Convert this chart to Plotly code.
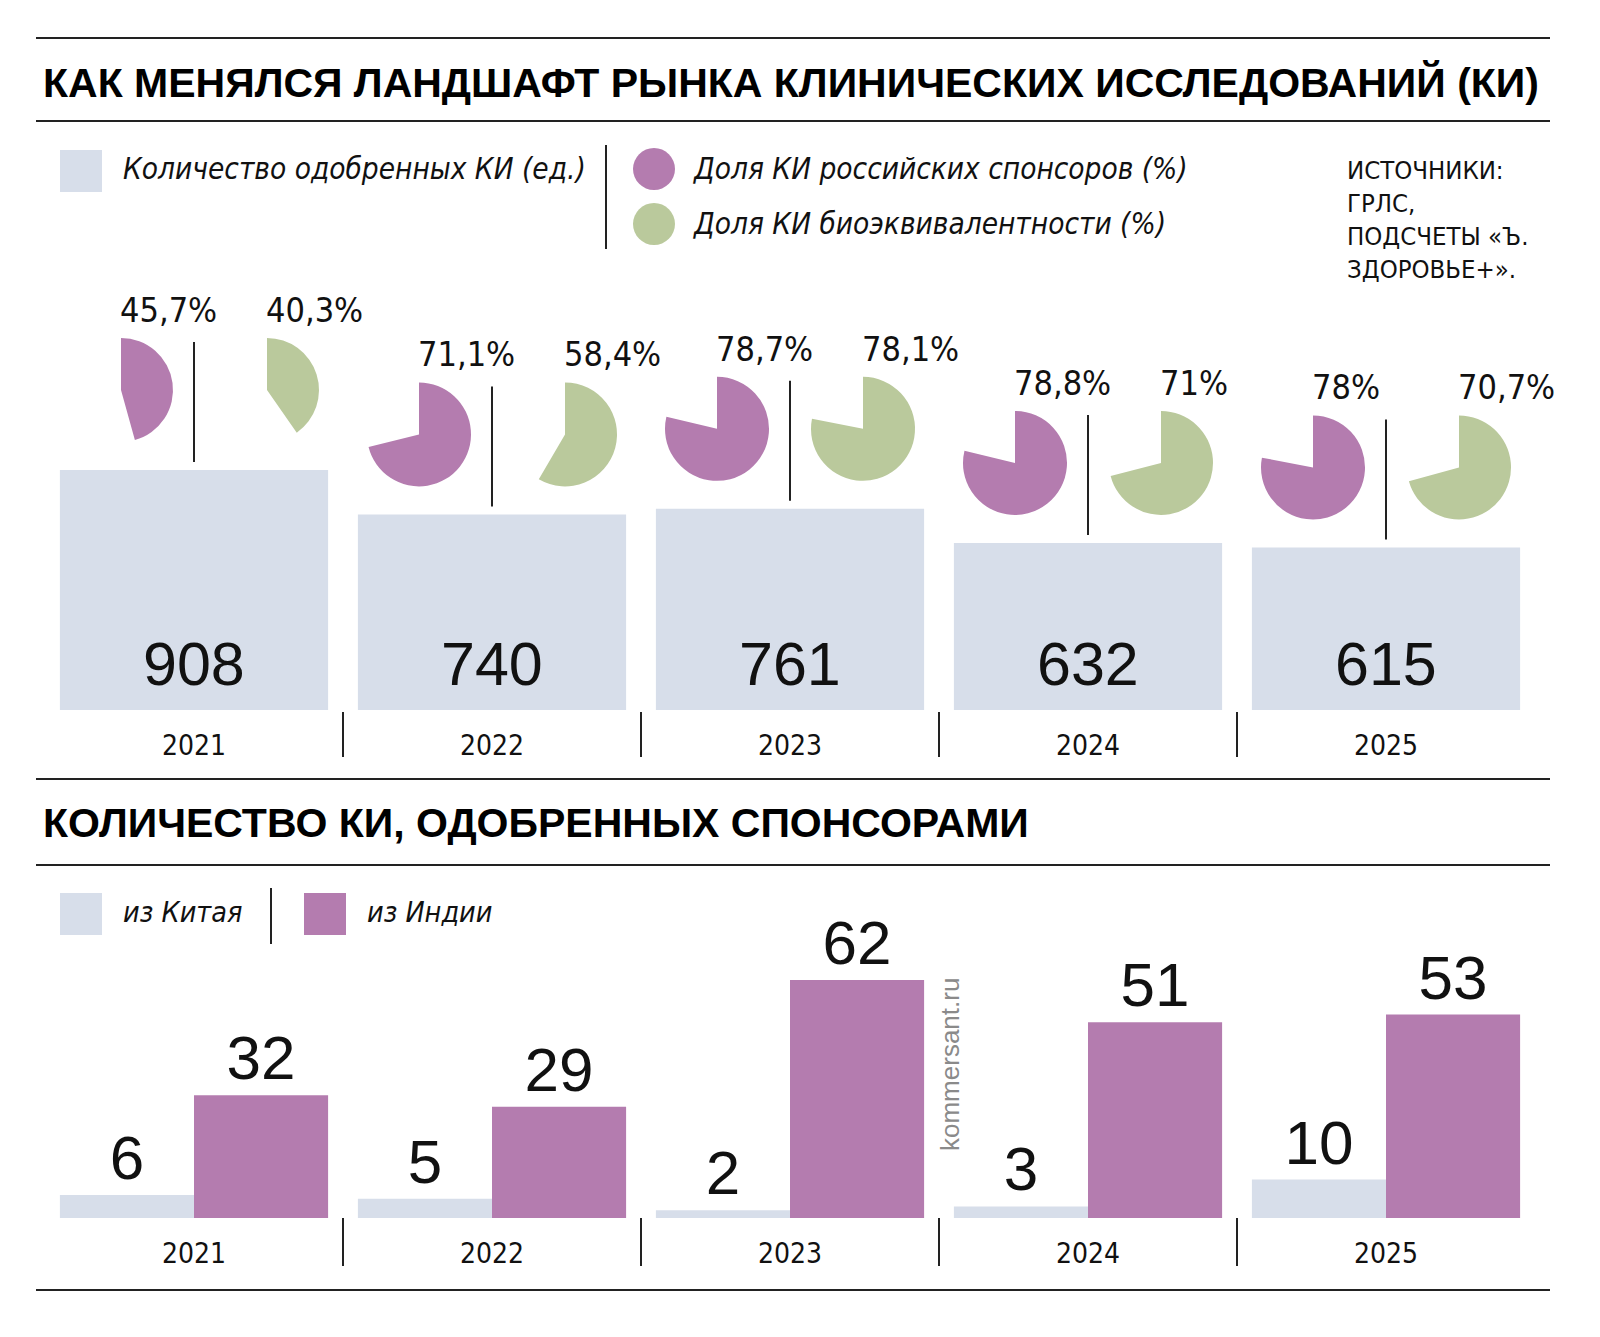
import plotly.graph_objects as go

# ---------------- data ----------------
years = ["2021", "2022", "2023", "2024", "2025"]
approved = [908, 740, 761, 632, 615]
share_ru = [45.7, 71.1, 78.7, 78.8, 78.0]
share_ru_lbl = ["45,7%", "71,1%", "78,7%", "78,8%", "78%"]
share_bio = [40.3, 58.4, 78.1, 71.0, 70.7]
share_bio_lbl = ["40,3%", "58,4%", "78,1%", "71%", "70,7%"]
china = [6, 5, 2, 3, 10]
india = [32, 29, 62, 51, 53]

title1 = "КАК МЕНЯЛСЯ ЛАНДШАФТ РЫНКА КЛИНИЧЕСКИХ ИССЛЕДОВАНИЙ (КИ)"
title2 = "КОЛИЧЕСТВО КИ, ОДОБРЕННЫХ СПОНСОРАМИ"
leg_approved = "Количество одобренных КИ (ед.)"
leg_ru = "Доля КИ российских спонсоров (%)"
leg_bio = "Доля КИ биоэквивалентности (%)"
leg_china = "из Китая"
leg_india = "из Индии"
sources = ["ИСТОЧНИКИ:", "ГРЛС,", "ПОДСЧЕТЫ «Ъ.", "ЗДОРОВЬЕ+»."]
watermark = "kommersant.ru"

# ---------------- style ----------------
W, H = 1600, 1337
C_BAR = "#d7deea"
C_PUR = "#b47caf"
C_GRN = "#bac99c"
NARROW = "Liberation Sans Narrow, DejaVu Sans Condensed, Arial Narrow, sans-serif"
SANS = "Liberation Sans, Arial, sans-serif"


def xp(px):
    return px / W


def yp(py):
    return 1 - py / H


X0, X1 = 37, 1527
n = len(years)
pitch = (X1 - X0) / n
xs = list(range(n))

# top chart scale
T_BASE, T_MAX = 702, 1600
T_PPU = 240 / 908
T_TOP = T_BASE - T_MAX * T_PPU
# bottom chart scale
B_BASE, B_MAX = 1210, 75
B_PPU = 238 / 62
B_TOP = B_BASE - B_MAX * B_PPU

fig = go.Figure()

fig.add_trace(go.Bar(x=xs, y=approved, marker=dict(color=C_BAR, line_width=0),
                     xaxis="x", yaxis="y", hoverinfo="skip", showlegend=False))
fig.add_trace(go.Bar(x=xs, y=china, marker=dict(color=C_BAR, line_width=0),
                     xaxis="x2", yaxis="y2", text=[str(v) for v in china],
                     textposition="outside", constraintext="none", cliponaxis=False,
                     textfont=dict(family=SANS, size=62, color="#111"),
                     hoverinfo="skip", showlegend=False))
fig.add_trace(go.Bar(x=xs, y=india, marker=dict(color=C_PUR, line_width=0),
                     xaxis="x2", yaxis="y2", text=[str(v) for v in india],
                     textposition="outside", constraintext="none", cliponaxis=False,
                     textfont=dict(family=SANS, size=62, color="#111"),
                     hoverinfo="skip", showlegend=False))

annotations = []
shapes = []

R = 52
for i in range(n):
    cxb = X0 + (i + 0.5) * pitch
    top_px = T_BASE - approved[i] * T_PPU
    cy = top_px - 80
    for val, lbl, col, dx in ((share_ru[i], share_ru_lbl[i], C_PUR, -73),
                              (share_bio[i], share_bio_lbl[i], C_GRN, 73)):
        cx = cxb + dx
        fig.add_trace(go.Pie(values=[val, 100 - val], sort=False, direction="clockwise",
                             rotation=0, marker=dict(colors=[col, "rgba(0,0,0,0)"], line_width=0),
                             textinfo="none", hoverinfo="skip", showlegend=False,
                             domain=dict(x=[xp(cx - R), xp(cx + R)], y=[yp(cy + R), yp(cy - R)])))
        annotations.append(dict(xref="paper", yref="paper", x=xp(cx - 3), y=yp(cy - R - 6),
                                xanchor="left", yanchor="bottom", text=lbl, showarrow=False,
                                font=dict(family=NARROW, size=34, color="#111")))
    # connector line above bar
    shapes.append(dict(type="line", xref="x", yref="y", x0=i, x1=i, ysizemode="pixel",
                       yanchor=approved[i], y0=8, y1=128, line=dict(color="#222", width=2)))
    # value label in bar
    annotations.append(dict(xref="x", yref="y", x=i, y=0, yshift=46, text=str(approved[i]),
                            showarrow=False, yanchor="middle",
                            font=dict(family=SANS, size=61, color="#111")))

# group separators (below the axes, not clipped)
for i in range(n - 1):
    xd = (i + 1) / n
    shapes.append(dict(type="line", xref="x domain", yref="paper", x0=xd, x1=xd,
                       y0=yp(T_BASE + 2), y1=yp(T_BASE + 47), line=dict(color="#222", width=2)))
    shapes.append(dict(type="line", xref="x2 domain", yref="paper", x0=xd, x1=xd,
                       y0=yp(B_BASE), y1=yp(B_BASE + 48), line=dict(color="#222", width=2)))

# horizontal rules
for py in (30, 113, 771, 857, 1282):
    shapes.append(dict(type="line", xref="paper", yref="paper", x0=xp(28), x1=xp(1542),
                       y0=yp(py), y1=yp(py), line=dict(color="#222", width=2)))

# titles
annotations.append(dict(xref="paper", yref="paper", x=xp(33), y=yp(75), xanchor="left", yanchor="middle",
                        text="<b>" + title1 + "</b>", showarrow=False,
                        font=dict(family=SANS, size=41, color="#000")))
annotations.append(dict(xref="paper", yref="paper", x=xp(33), y=yp(815), xanchor="left", yanchor="middle",
                        text="<b>" + title2 + "</b>", showarrow=False,
                        font=dict(family=SANS, size=41, color="#000")))

# top legend
shapes.append(dict(type="rect", xref="paper", yref="paper", x0=xp(52), x1=xp(94), y0=yp(184), y1=yp(142),
                   fillcolor=C_BAR, line_width=0))
shapes.append(dict(type="line", xref="paper", yref="paper", x0=xp(598), x1=xp(598), y0=yp(137), y1=yp(241),
                   line=dict(color="#222", width=2)))
for cyy, col in ((161, C_PUR), (216, C_GRN)):
    shapes.append(dict(type="circle", xref="paper", yref="paper", x0=xp(625), x1=xp(667),
                       y0=yp(cyy + 21), y1=yp(cyy - 21), fillcolor=col, line_width=0))
for txt, xx, yy in ((leg_approved, 113, 161), (leg_ru, 683, 161), (leg_bio, 683, 216)):
    annotations.append(dict(xref="paper", yref="paper", x=xp(xx), y=yp(yy), xanchor="left", yanchor="middle",
                            text="<i>" + txt + "</i>", showarrow=False,
                            font=dict(family=NARROW, size=29.5, color="#111")))
annotations.append(dict(xref="paper", yref="paper", x=xp(1337), y=yp(145), xanchor="left", yanchor="top",
                        text="<br>".join(sources), showarrow=False, align="left",
                        font=dict(family=NARROW, size=25.5, color="#111")))

# bottom legend
shapes.append(dict(type="rect", xref="paper", yref="paper", x0=xp(52), x1=xp(94), y0=yp(927), y1=yp(885),
                   fillcolor=C_BAR, line_width=0))
shapes.append(dict(type="rect", xref="paper", yref="paper", x0=xp(296), x1=xp(338), y0=yp(927), y1=yp(885),
                   fillcolor=C_PUR, line_width=0))
shapes.append(dict(type="line", xref="paper", yref="paper", x0=xp(263), x1=xp(263), y0=yp(880), y1=yp(936),
                   line=dict(color="#222", width=2)))
for txt, xx in ((leg_china, 113), (leg_india, 357)):
    annotations.append(dict(xref="paper", yref="paper", x=xp(xx), y=yp(905), xanchor="left", yanchor="middle",
                            text="<i>" + txt + "</i>", showarrow=False,
                            font=dict(family=NARROW, size=28.5, color="#111")))

# watermark
annotations.append(dict(xref="paper", yref="paper", x=xp(942), y=yp(1057), xanchor="center", yanchor="middle",
                        text=watermark, textangle=-90, showarrow=False,
                        font=dict(family=SANS, size=26, color="#8a8a8a")))

axis_common = dict(range=[-0.5, n - 0.5], tickmode="array", tickvals=xs, ticktext=years,
                   showgrid=False, zeroline=False, showline=False, ticks="",
                   tickfont=dict(family=NARROW, size=28, color="#111"), ticklabelstandoff=16,
                   fixedrange=True)

fig.update_layout(
    width=W, height=H, margin=dict(l=0, r=0, t=0, b=0),
    paper_bgcolor="white", plot_bgcolor="rgba(0,0,0,0)",
    barmode="group", bargap=0.1, bargroupgap=0,
    xaxis=dict(domain=[xp(X0), xp(X1)], anchor="y", **axis_common),
    yaxis=dict(domain=[yp(T_BASE), yp(T_TOP)], range=[0, T_MAX], visible=False, fixedrange=True),
    xaxis2=dict(domain=[xp(X0), xp(X1)], anchor="y2", **axis_common),
    yaxis2=dict(domain=[yp(B_BASE), yp(B_TOP)], range=[0, B_MAX], visible=False, fixedrange=True),
    shapes=shapes, annotations=annotations,
)

fig.write_html("out.html")
